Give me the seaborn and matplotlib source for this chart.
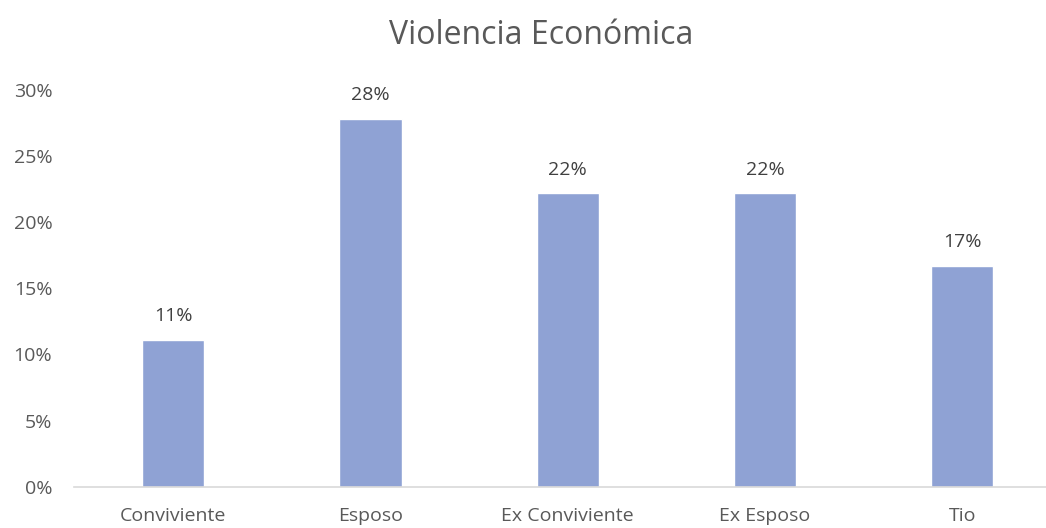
import matplotlib
matplotlib.use("Agg")
import matplotlib.pyplot as plt
import seaborn as sns
import pandas as pd
from matplotlib.ticker import PercentFormatter

categories = ["Conviviente", "Esposo", "Ex Conviviente", "Ex Esposo", "Tio"]
values = [11.1, 27.8, 22.2, 22.2, 16.7]
labels = ["11%", "28%", "22%", "22%", "17%"]
yticks = [0, 5, 10, 15, 20, 25, 30]

sns.set_theme(style="white")
plt.rcParams['font.family'] = ['Open Sans', 'DejaVu Sans']

df = pd.DataFrame({"cat": categories, "val": values})

fig = plt.figure(figsize=(10.46, 5.28), dpi=100)
ax = fig.add_axes([74.5/1046, (528-486.7)/528, (1046-74.5)/1046, (486.7-88)/528])
sns.barplot(data=df, x="cat", y="val", color="#8FA2D4", width=0.315, saturation=1, ax=ax)

ax.set_ylim(0, 30.15)
ax.set_xlim(-0.5, 4.5 - (1061 - 1046) / 197.3)
ax.set_yticks(yticks)
ax.yaxis.set_major_formatter(PercentFormatter(decimals=0))
ax.set_xlabel("")
ax.set_ylabel("")
for s in ["top", "right", "left"]:
    ax.spines[s].set_visible(False)
ax.spines["bottom"].set_color("#D9D9D9")
ax.spines["bottom"].set_linewidth(1.2)
ax.tick_params(axis="both", length=0, labelsize=14, colors="#595959")
ax.tick_params(axis="x", pad=14.5)
ax.tick_params(axis="y", pad=16)

for i, (v, t) in enumerate(zip(values, labels)):
    ax.annotate(t, (i, v), xytext=(0, 10.5), textcoords="offset points",
                ha="center", va="bottom", fontsize=14, color="#404040")

fig.text(541/1046, 1 - 35/528, "Violencia Económica", ha="center", va="center",
         fontsize=23, color="#595959")

fig.savefig("out.png", dpi=100)
